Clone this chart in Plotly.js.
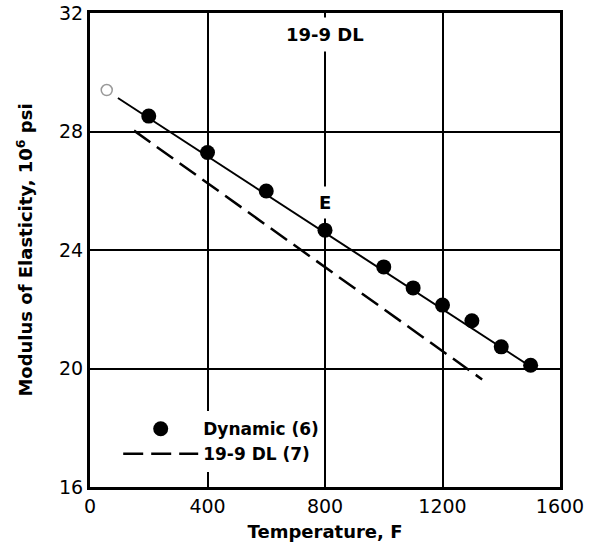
<!DOCTYPE html>
<html>
<head>
<meta charset="utf-8">
<script src="https://cdn.plot.ly/plotly-3.0.1.min.js"></script>
<style>html,body{margin:0;padding:0;background:#fff;}#chart{width:598px;height:550px;}</style>
</head>
<body>
<div id="chart"></div>
<script>
// Dynamic modulus measurements (6)
const dynTemp = [200, 400, 600, 800, 1000, 1100, 1200, 1300, 1400, 1500];
const dynE    = [28.52, 27.29, 25.99, 24.67, 23.43, 22.72, 22.14, 21.61, 20.73, 20.11];
// Faint open point near room temperature
const rtTemp = [57];
const rtE    = [29.4];
// Fitted line through dynamic data
const fitTemp = [95, 1510];
const fitE    = [29.13, 20.0];
// 19-9 DL (7) curve
const dlTemp = [150, 1335];
const dlE    = [28.03, 19.63];
// Axis ticks
const xTicks = [0, 400, 800, 1200, 1600];
const yTicks = [16, 20, 24, 28, 32];

const boldFont = {family: 'DejaVu Sans', size: 18, color: '#000', weight: 'bold'};

const traces = [
  {x: dynTemp, y: dynE, type: 'scatter', mode: 'markers', name: '<b>Dynamic (6)</b>',
   marker: {color: '#000', size: 15, symbol: 'circle'}, showlegend: true},
  {x: dlTemp, y: dlE, type: 'scatter', mode: 'lines', name: '<b>19-9 DL (7)</b>',
   line: {color: '#000', width: 2.5, dash: '20px,8px'}, showlegend: true},
  {x: fitTemp, y: fitE, type: 'scatter', mode: 'lines', showlegend: false,
   line: {color: '#000', width: 2}},
  {x: rtTemp, y: rtE, type: 'scatter', mode: 'markers', showlegend: false,
   marker: {color: '#999', size: 11, symbol: 'circle-open', line: {color: '#999', width: 1.5}}}
];

const axisCommon = {
  showline: true, linecolor: '#000', linewidth: 3, mirror: true,
  showgrid: true, gridcolor: '#000', gridwidth: 2,
  zeroline: false, ticks: '',
  tickfont: {family: 'DejaVu Sans', size: 19, color: '#000'}
};

const layout = {
  width: 598, height: 550,
  margin: {l: 90, r: 38, t: 13, b: 63},
  paper_bgcolor: '#fff', plot_bgcolor: '#fff',
  xaxis: Object.assign({}, axisCommon, {
    range: [0, 1600], tickvals: xTicks, ticktext: xTicks.map(String),
    title: {text: '<b>Temperature, F</b>', font: boldFont, standoff: 10}
  }),
  yaxis: Object.assign({}, axisCommon, {
    range: [16, 32], tickvals: yTicks, ticktext: yTicks.map(String),
    title: {text: '<b>Modulus of Elasticity, 10<sup>6</sup> psi</b>', font: boldFont, standoff: 22}
  }),
  legend: {
    x: 0.06, y: 0.16, xanchor: 'left', yanchor: 'top',
    bgcolor: '#fff', borderwidth: 0, itemwidth: 75,
    font: {family: 'DejaVu Sans', size: 17, color: '#000'}
  },
  annotations: [
    {x: 800, y: 31.26, xref: 'x', yref: 'y', text: '<b>19-9 DL</b>', showarrow: false,
     font: boldFont, bgcolor: '#fff', borderpad: 6},
    {x: 800, y: 25.62, xref: 'x', yref: 'y', text: '<b>E</b>', showarrow: false,
     font: boldFont, bgcolor: '#fff', borderpad: 5}
  ],
  showlegend: true
};

Plotly.newPlot('chart', traces, layout, {displayModeBar: false, staticPlot: true});
</script>
</body>
</html>
